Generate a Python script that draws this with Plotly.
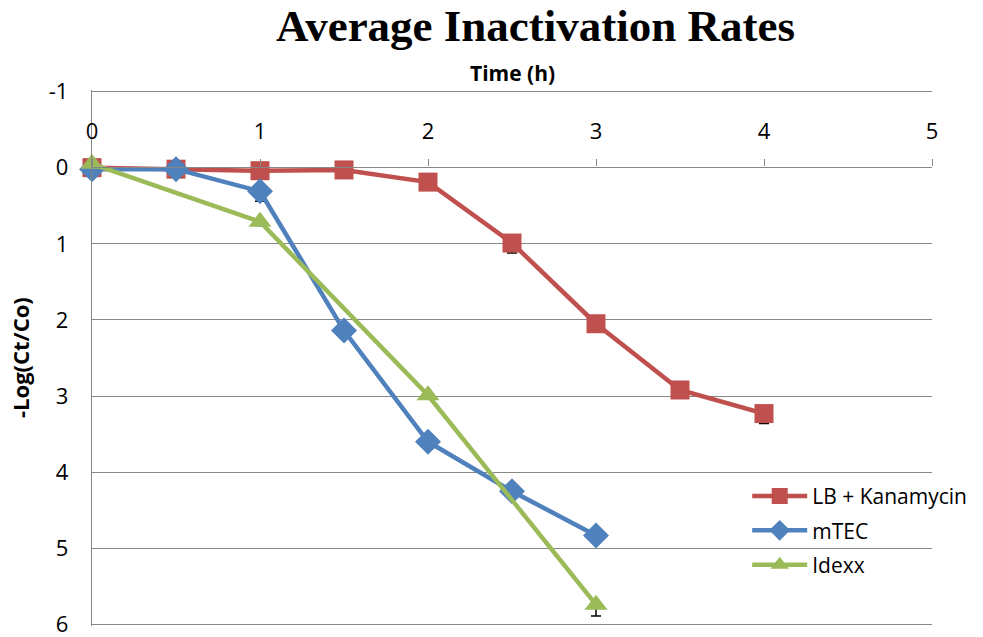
import plotly.graph_objects as go

# Data
lb_x = [0, 0.5, 1, 1.5, 2, 2.5, 3, 3.5, 4]
lb_y = [0.0, 0.02, 0.04, 0.03, 0.19, 0.99, 2.05, 2.92, 3.23]
lb_err = [0.02, 0.02, 0.03, 0.03, 0.05, 0.13, 0.05, 0.05, 0.13]

mtec_x = [0, 0.5, 1, 1.5, 2, 2.5, 3]
mtec_y = [0.02, 0.02, 0.31, 2.14, 3.6, 4.25, 4.83]
mtec_err = [0.02, 0.02, 0.13, 0.09, 0.05, 0.05, 0.05]

idexx_x = [0, 1, 2, 3]
idexx_y = [-0.05, 0.71, 2.99, 5.74]
idexx_err = [0.02, 0.05, 0.05, 0.15]

x_ticks = [0, 1, 2, 3, 4, 5]
y_ticks = [-1, 0, 1, 2, 3, 4, 5, 6]

RED = "#C0504D"
BLUE = "#4F81BD"
GREEN = "#9BBB59"
GRID = "#868686"
FONT = "Open Sans"

fig = go.Figure()

def add(name, xs, ys, errs, color, symbol, size):
    fig.add_trace(go.Scatter(
        x=xs, y=ys, name=name, mode="lines+markers",
        line=dict(color=color, width=4.5),
        marker=dict(color=color, symbol=symbol, size=size),
        error_y=dict(type="data", symmetric=False, array=errs,
                     arrayminus=[0] * len(errs), color="black",
                     thickness=1.5, width=5),
        cliponaxis=False, legendgroup=name,
    ))

add("LB + Kanamycin", lb_x, lb_y, lb_err, RED, "square", 19)
add("mTEC", mtec_x, mtec_y, mtec_err, BLUE, "diamond", 20)
add("Idexx", idexx_x, idexx_y, idexx_err, GREEN, "triangle-up", 20)

fig.update_layout(
    width=983, height=637,
    margin=dict(l=92, r=51, t=90, b=11, autoexpand=False),
    paper_bgcolor="white", plot_bgcolor="white",
    font=dict(family=FONT, size=22, color="black"),
    showlegend=True,
    legend=dict(x=0.78, y=0.28, xanchor="left", yanchor="top",
                bgcolor="rgba(0,0,0,0)", font=dict(family=FONT, size=21),
                itemwidth=55, tracegroupgap=4, traceorder="grouped"),
    xaxis=dict(range=[0, 5], tickvals=x_ticks, ticktext=[str(v) for v in x_ticks],
               side="top", anchor="free", position=6 / 7, automargin=False,
               showline=True, linecolor=GRID, linewidth=1.3,
               ticks="outside", ticklen=7, tickcolor=GRID, tickwidth=1.3,
               ticklabelstandoff=12,
               showgrid=False, zeroline=False,
               tickfont=dict(family=FONT, size=22)),
    yaxis=dict(range=[6.02, -1.02], tickvals=y_ticks, ticktext=[str(v) for v in y_ticks],
               automargin=False, ticklabeloverflow="allow",
               showline=True, linecolor=GRID, linewidth=1.3,
               showgrid=True, gridcolor=GRID, gridwidth=1.3,
               zeroline=False, ticks="", ticklabelstandoff=18,
               tickfont=dict(family=FONT, size=22)),
    annotations=[
        dict(text="<b>Average Inactivation Rates</b>", xref="paper", yref="paper",
             x=0.528, y=1, yshift=64, xanchor="center", yanchor="middle",
             showarrow=False, font=dict(family="Liberation Serif", size=45)),
        dict(text="<b>Time (h)</b>", xref="paper", yref="paper",
             x=0.5, y=1, yshift=17, xanchor="center", yanchor="middle",
             showarrow=False, font=dict(family=FONT, size=21)),
        dict(text="<b>-Log(Ct/Co)</b>", xref="paper", yref="paper",
             x=0, xshift=-72, y=0.5, textangle=-90, xanchor="center", yanchor="middle",
             showarrow=False, font=dict(family=FONT, size=22)),
    ],
)

fig.write_html("out.html", config={"displayModeBar": False},
               post_script="document.body.style.margin='0';")
